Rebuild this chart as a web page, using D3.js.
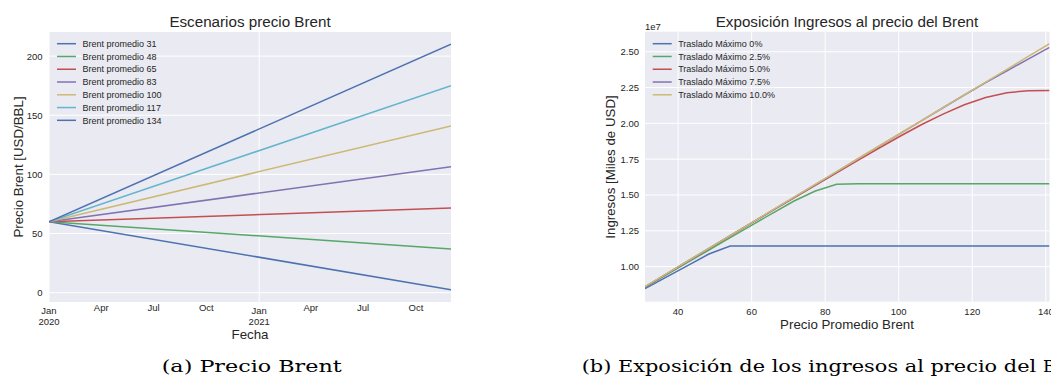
<!DOCTYPE html>
<html>
<head>
<meta charset="utf-8">
<script src="https://cdn.jsdelivr.net/npm/d3@7"></script>
<style>
body { margin: 0; background: #fff; }
text { font-family: "Liberation Sans", Arial, sans-serif; fill: #262626; }
.cap { font-family: "DejaVu Serif", "Liberation Serif", serif; fill: #000; }
</style>
</head>
<body>
<svg id="main" width="1051" height="380"></svg>
<script>
// seaborn "deep" colours
var colores = ["#4C72B0", "#55A868", "#C44E52", "#8172B2", "#CCB974", "#64B5CD", "#4C72B0"];

// (a) escenarios de precio
var escenarios = ["Brent promedio 31", "Brent promedio 48", "Brent promedio 65", "Brent promedio 83",
	"Brent promedio 100", "Brent promedio 117", "Brent promedio 134"];
var fechas = ["2020-01-01", "2021-12-01"];
var precioInicio = [60, 60, 60, 60, 60, 60, 60];
var precioFin = [2.5, 37, 71.5, 106.5, 141, 175, 210];
var yTicksA = [0, 50, 100, 150, 200];

// (b) exposición de ingresos (en 1e7 USD)
var traslados = ["Traslado Máximo 0%", "Traslado Máximo 2.5%", "Traslado Máximo 5.0%",
	"Traslado Máximo 7.5%", "Traslado Máximo 10.0%"];
var precioPromedio = [31, 36.79, 42.58, 48.37, 54.16, 59.95, 65.74, 71.53, 77.32, 83.11,
	88.89, 94.68, 100.47, 106.26, 112.05, 117.84, 123.63, 129.42, 135.21, 141];
var ingresos0 = [0.847, 0.927, 1.007, 1.088, 1.143, 1.143, 1.143, 1.143, 1.143, 1.143,
	1.143, 1.143, 1.143, 1.143, 1.143, 1.143, 1.143, 1.143, 1.143, 1.143];
var ingresos25 = [0.855, 0.942, 1.029, 1.116, 1.202, 1.288, 1.374, 1.458, 1.528, 1.575,
	1.578, 1.578, 1.578, 1.578, 1.578, 1.578, 1.578, 1.578, 1.578, 1.578];
var ingresos50 = [0.858, 0.947, 1.036, 1.125, 1.214, 1.303, 1.392, 1.480, 1.568, 1.655,
	1.742, 1.828, 1.912, 1.992, 2.065, 2.130, 2.180, 2.214, 2.228, 2.230];
var ingresos75 = [0.859, 0.948, 1.038, 1.127, 1.216, 1.305, 1.395, 1.484, 1.573, 1.662,
	1.752, 1.841, 1.930, 2.019, 2.109, 2.198, 2.284, 2.367, 2.449, 2.531];
var ingresos100 = [0.860, 0.949, 1.039, 1.128, 1.217, 1.306, 1.396, 1.485, 1.574, 1.663,
	1.753, 1.842, 1.931, 2.020, 2.110, 2.199, 2.288, 2.377, 2.467, 2.556];
var xTicksB = [40, 60, 80, 100, 120, 140];
var yTicksB = [1.00, 1.25, 1.50, 1.75, 2.00, 2.25, 2.50];

var svg = d3.select("#main");
var fondo = "#EAEAF2";

var addPanel = function(id, left, right, top, bottom) {
	svg.append("clipPath").attr("id", id)
		.append("rect").attr("x", left).attr("y", top)
		.attr("width", right - left).attr("height", bottom - top);
	svg.append("rect").attr("x", left).attr("y", top)
		.attr("width", right - left).attr("height", bottom - top)
		.attr("fill", fondo);
	return svg.append("g");
};

var addLegend = function(names, x0, y0) {
	names.forEach(function(n, i) {
		var y = y0 + i * 12.77;
		svg.append("line")
			.attr("x1", x0).attr("x2", x0 + 19)
			.attr("y1", y).attr("y2", y)
			.attr("stroke", colores[i]).attr("stroke-width", 1.5);
		svg.append("text")
			.attr("x", x0 + 25.5).attr("y", y + 3.2)
			.attr("font-size", 9).text(n);
	});
};

// ---------- panel (a) ----------
var parse = d3.timeParse("%Y-%m-%d");
var xa = d3.scaleTime().domain([parse(fechas[0]), parse(fechas[1])]).range([49, 451]);
var ya = d3.scaleLinear().domain([-7.9, 220.4]).range([302, 32]);

var ga = addPanel("clipA", 49, 451, 32, 302);
yTicksA.forEach(function(t) {
	ga.append("line").attr("x1", 49).attr("x2", 451)
		.attr("y1", ya(t)).attr("y2", ya(t))
		.attr("stroke", "#fff").attr("stroke-width", 1);
	ga.append("text").attr("x", 42.5).attr("y", ya(t) + 3.4)
		.attr("text-anchor", "end").attr("font-size", 9.5).text(t);
});
xa.ticks(d3.timeMonth.every(3)).forEach(function(d) {
	var x = xa(d);
	if (d.getMonth() === 0) {
		ga.append("line").attr("x1", x).attr("x2", x).attr("y1", 32).attr("y2", 302)
			.attr("stroke", "#fff").attr("stroke-width", 1);
		ga.append("text").attr("x", x).attr("y", 314).attr("text-anchor", "middle")
			.attr("font-size", 9.5).text(d3.timeFormat("%b")(d));
		ga.append("text").attr("x", x).attr("y", 324.5).attr("text-anchor", "middle")
			.attr("font-size", 9.5).text(d3.timeFormat("%Y")(d));
	} else {
		ga.append("text").attr("x", x).attr("y", 311).attr("text-anchor", "middle")
			.attr("font-size", 9.5).text(d3.timeFormat("%b")(d));
	}
});

var lineA = d3.line().x(function(d) { return xa(d[0]); }).y(function(d) { return ya(d[1]); });
escenarios.forEach(function(n, i) {
	var pts = [[parse(fechas[0]), precioInicio[i]], [parse(fechas[1]), precioFin[i]]];
	ga.append("path").datum(pts)
		.attr("d", lineA)
		.attr("clip-path", "url(#clipA)")
		.attr("fill", "none").attr("stroke", colores[i]).attr("stroke-width", 1.5);
});

svg.append("text").attr("x", 250).attr("y", 27).attr("text-anchor", "middle")
	.attr("font-size", 15.2).text("Escenarios precio Brent");
svg.append("text").attr("x", 250).attr("y", 338.5).attr("text-anchor", "middle")
	.attr("font-size", 13.3).text("Fecha");
svg.append("text").attr("transform", "translate(23,167) rotate(-90)")
	.attr("text-anchor", "middle").attr("font-size", 13.3).text("Precio Brent [USD/BBL]");
addLegend(escenarios, 57, 43.7);

// ---------- panel (b) ----------
var xb = d3.scaleLinear().domain([31, 141]).range([645, 1049.5]);
var yb = d3.scaleLinear().domain([0.755, 2.64]).range([301.7, 31.7]);

var gb = addPanel("clipB", 645, 1049.5, 31.7, 301.7);
yTicksB.forEach(function(t) {
	gb.append("line").attr("x1", 645).attr("x2", 1049.5)
		.attr("y1", yb(t)).attr("y2", yb(t))
		.attr("stroke", "#fff").attr("stroke-width", 1);
	gb.append("text").attr("x", 639).attr("y", yb(t) + 3.4)
		.attr("text-anchor", "end").attr("font-size", 9.5).text(d3.format(".2f")(t));
});
xTicksB.forEach(function(t) {
	gb.append("line").attr("x1", xb(t)).attr("x2", xb(t))
		.attr("y1", 31.7).attr("y2", 301.7)
		.attr("stroke", "#fff").attr("stroke-width", 1);
	gb.append("text").attr("x", xb(t)).attr("y", 314.5)
		.attr("text-anchor", "middle").attr("font-size", 9.5).text(t);
});

var lineB = d3.line().x(function(d) { return xb(d[0]); }).y(function(d) { return yb(d[1]); });
[ingresos0, ingresos25, ingresos50, ingresos75, ingresos100].forEach(function(serie, i) {
	var pts = precioPromedio.map(function(p, k) { return [p, serie[k]]; });
	gb.append("path").datum(pts)
		.attr("d", lineB)
		.attr("clip-path", "url(#clipB)")
		.attr("fill", "none").attr("stroke", colores[i]).attr("stroke-width", 1.5);
});

svg.append("text").attr("x", 645).attr("y", 30).attr("font-size", 9.5).text("1e7");
svg.append("text").attr("x", 847).attr("y", 27).attr("text-anchor", "middle")
	.attr("font-size", 15.2).text("Exposición Ingresos al precio del Brent");
svg.append("text").attr("x", 847).attr("y", 328.5).attr("text-anchor", "middle")
	.attr("font-size", 13.3).text("Precio Promedio Brent");
svg.append("text").attr("transform", "translate(615,167) rotate(-90)")
	.attr("text-anchor", "middle").attr("font-size", 13.3).text("Ingresos [Miles de USD]");
addLegend(traslados, 652.7, 43.7);

// ---------- captions ----------
svg.append("text").attr("class", "cap").attr("x", 161.7).attr("y", 372)
	.attr("font-size", 17).attr("textLength", 180).attr("lengthAdjust", "spacingAndGlyphs")
	.text("(a) Precio Brent");
svg.append("text").attr("class", "cap").attr("x", 581.7).attr("y", 372)
	.attr("font-size", 17).attr("textLength", 454.5).attr("lengthAdjust", "spacingAndGlyphs")
	.text("(b) Exposición de los ingresos al precio del");
svg.append("text").attr("class", "cap").attr("x", 1043).attr("y", 372)
	.attr("font-size", 17).text("Brent");
</script>
</body>
</html>
